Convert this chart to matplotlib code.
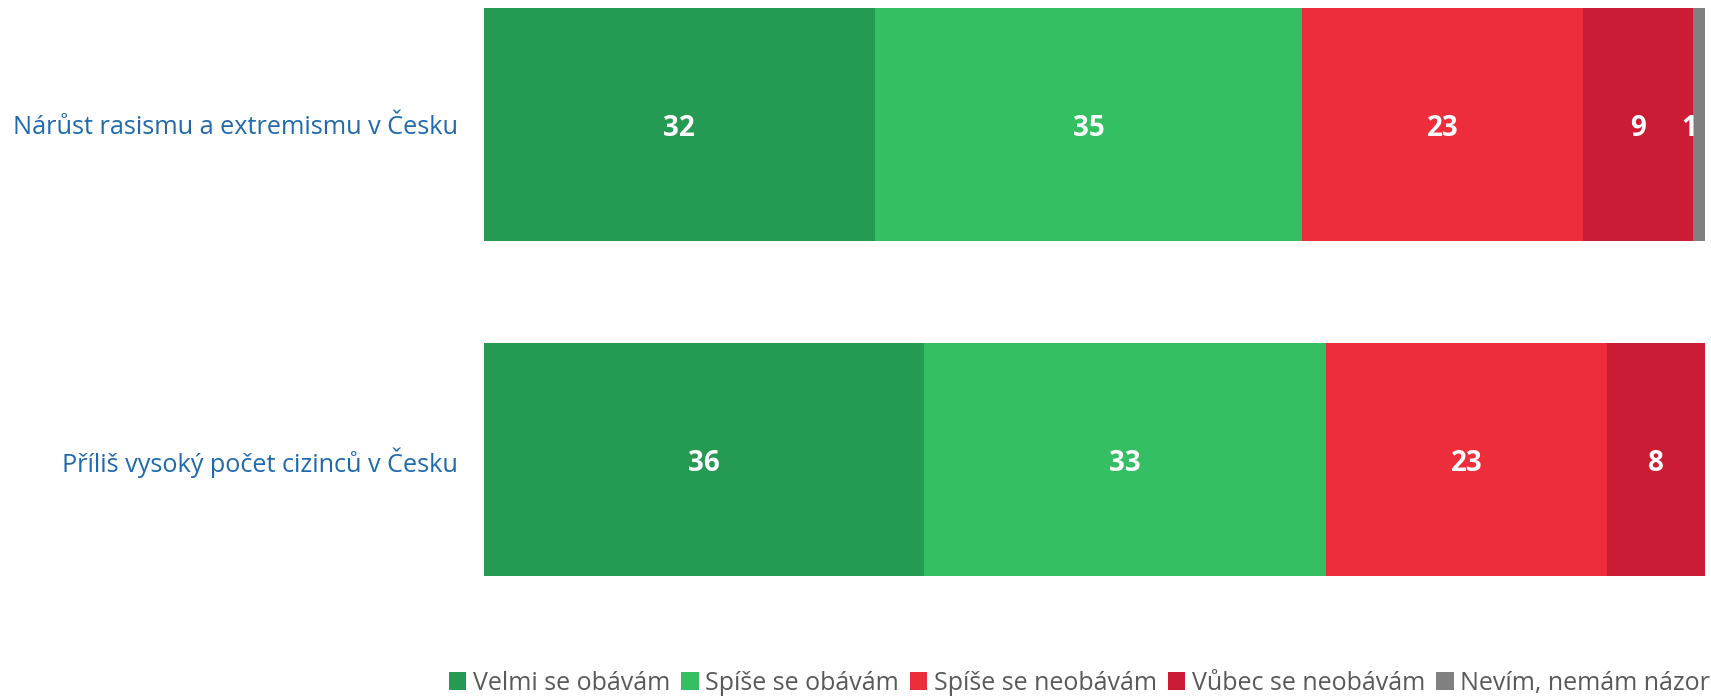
import matplotlib.pyplot as plt
import numpy as np

plt.rcParams['font.family'] = ['Open Sans', 'DejaVu Sans']

categories = ['Nárůst rasismu a extremismu v Česku', 'Příliš vysoký počet cizinců v Česku']
series = ['Velmi se obávám', 'Spíše se obávám', 'Spíše se neobávám', 'Vůbec se neobávám', 'Nevím, nemám názor']
values = {
    'Velmi se obávám': [32, 36],
    'Spíše se obávám': [35, 33],
    'Spíše se neobávám': [23, 23],
    'Vůbec se neobávám': [9, 8],
    'Nevím, nemám názor': [1, 0],
}
colors = ['#259A52', '#35BF63', '#EE2D3C', '#CC1C35', '#808080']

fig = plt.figure(figsize=(17.11, 6.97), dpi=100)
ax = fig.add_axes([484 / 1711, 1 - 576 / 697, (1705 - 484) / 1711, (576 - 8) / 697])

y = np.arange(len(categories))
h = 0.694
left = np.zeros(len(categories))
for name, col in zip(series, colors):
    v = np.array(values[name], dtype=float)
    ax.barh(y, v, left=left, height=h, color=col, edgecolor='none', label=name)
    for yi, (l, vi) in enumerate(zip(left, v)):
        if vi > 0:
            # very narrow segment: nudge label left so it stays inside the plot
            dx = -7 if vi < 3 else 0
            ax.annotate(f'{vi:.0f}', (l + vi / 2, yi), xytext=(dx, -3), textcoords='offset points',
                        ha='center', va='center', color='white', fontsize=20, fontweight='bold')
    left += v

ax.set_xlim(0, 100)
ax.set_ylim(1 + h / 2, -h / 2)
ax.set_yticks(y)
ax.set_yticklabels(categories, color='#1F69AE', fontsize=18.2)
ax.tick_params(axis='y', length=0, pad=19)
ax.set_xticks([])
for s in ax.spines.values():
    s.set_visible(False)
for t in ax.get_yticklabels():
    t.set_va('center_baseline')

leg = fig.legend(loc='lower right', bbox_to_anchor=(1.0, 0.0), ncol=5, frameon=False,
                 fontsize=18, handlelength=0.7, handleheight=0.7, handletextpad=0.25,
                 columnspacing=0.45, borderaxespad=0.0, borderpad=0.05)
for t in leg.get_texts():
    t.set_color('#595959')

fig.savefig('out.png', dpi=100)
